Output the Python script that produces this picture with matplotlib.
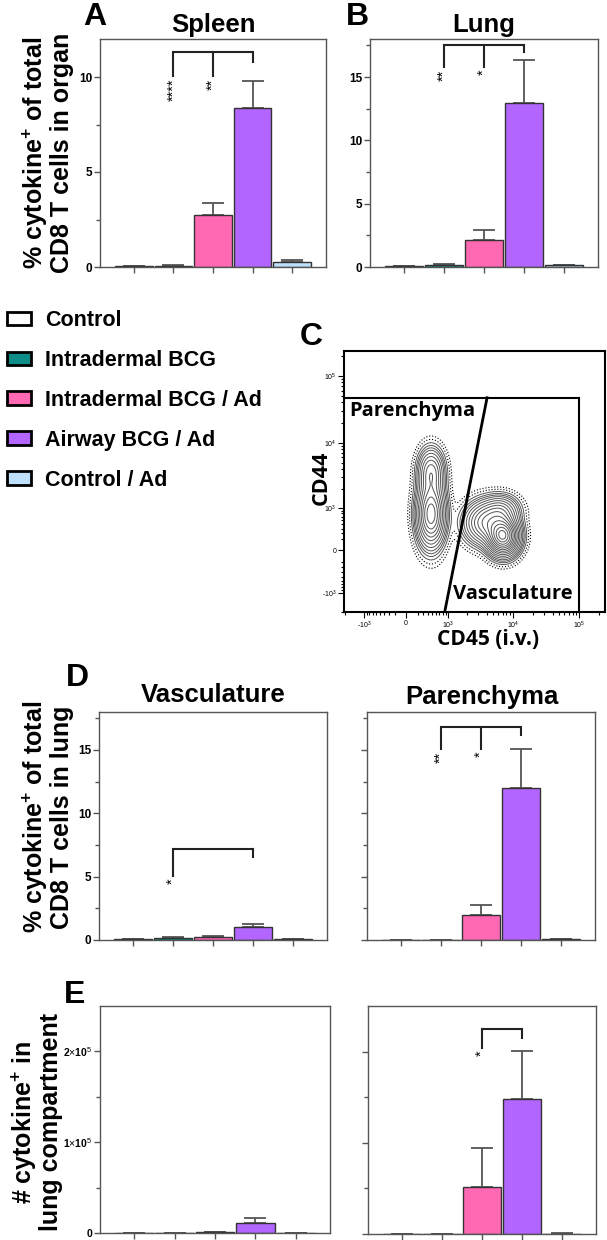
import numpy as np
import matplotlib.pyplot as plt
from matplotlib.patches import Patch

# ---- Figure geometry (pixels) -------------------------------------------
W, H = 607, 1240
DPI = 100

plt.rcParams['font.family'] = ['Liberation Sans', 'DejaVu Sans']
plt.rcParams['mathtext.fontset'] = 'custom'
plt.rcParams['mathtext.rm'] = 'Liberation Sans'
plt.rcParams['mathtext.bf'] = 'Liberation Sans:bold'

# ---- Data ----------------------------------------------------------------
groups = ["Control", "Intradermal BCG", "Intradermal BCG / Ad",
          "Airway BCG / Ad", "Control / Ad"]
colors = ["#ffffff", "#0e8c88", "#ff69b4", "#b266ff", "#bfe0fa"]

# % cytokine+ of CD8 T cells (mean, SEM)
spleen_mean = [0.03, 0.06, 2.75, 8.35, 0.27]
spleen_sem  = [0.01, 0.02, 0.60, 1.45, 0.10]
lung_mean   = [0.05, 0.15, 2.12, 12.97, 0.12]
lung_sem    = [0.02, 0.10, 0.80, 3.37, 0.03]
vasc_mean   = [0.04, 0.15, 0.22, 0.99, 0.08]
vasc_sem    = [0.02, 0.10, 0.13, 0.31, 0.02]
paren_mean  = [0.01, 0.02, 1.97, 11.97, 0.05]
paren_sem   = [0.005, 0.01, 0.80, 3.08, 0.02]

# number of cytokine+ cells per compartment
vasc_count_mean  = [100, 200, 900, 10700, 100]
vasc_count_sem   = [50, 100, 300, 5800, 50]
paren_count_mean = [100, 200, 52000, 147700, 500]
paren_count_sem  = [50, 100, 42000, 53000, 200]

# significance brackets: legs (group index), leg bottoms, bar top, stars
spleen_sig = ([1, 2, 3], [10.05, 10.05, 10.8], 11.3, ["****", "**", ""])
lung_sig   = ([1, 2, 3], [15.8, 15.8, 17.0], 17.5, ["**", "*", ""])
vasc_sig   = ([1, 3], [5.05, 6.55], 7.15, ["*", ""])
paren_sig  = ([1, 2, 3], [15.1, 15.1, 16.2], 16.85, ["**", "*", ""])
paren_count_sig = ([2, 3], [2.04e5, 2.15e5], 2.25e5, ["*", ""])

# flow panel: populations in asinh units (centre x, centre y, sd x, sd y, weight)
flow_pops = [
    (0.87, 1.25, 0.27, 0.62, 0.60),   # parenchyma, main
    (0.87, 2.70, 0.25, 0.45, 0.30),   # parenchyma, upper
    (3.38, 0.50, 0.30, 0.36, 1.00),   # vasculature, main
    (2.75, 0.95, 0.40, 0.40, 0.40),   # vasculature, upper-left shoulder
    (3.30, 1.35, 0.35, 0.30, 0.25),   # vasculature, upper
]
flow_levels = [0.006, 0.012, 0.022, 0.035, 0.05, 0.07, 0.1, 0.14, 0.19,
               0.25, 0.32, 0.40, 0.49, 0.59, 0.70, 0.82, 0.93]
gate_top = 4.7e4
gate_right = 1.0e5
gate_split_top = 4060
gate_split_bottom = 883
ASINH_W = 485


def rect(l, t, r, b):
    return [l / W, 1 - b / H, (r - l) / W, (b - t) / H]


def fx(x):
    return x / W


def fy(y):
    return 1 - y / H


def bar_panel(ax, mean, sem, ymax, yticks, ylabels, minor):
    x = np.arange(len(mean))
    ax.bar(x, mean, width=0.95, color=colors, edgecolor="#333333",
           linewidth=1.0, zorder=2)
    ax.errorbar(x, mean, yerr=[np.zeros(len(sem)), sem], fmt="none",
                ecolor="#555555", elinewidth=1.3, capsize=8, capthick=1.3,
                zorder=1)
    ax.set_xlim(-0.85, 4.85)
    ax.set_ylim(0, ymax)
    ax.set_xticks(x)
    ax.set_xticklabels([])
    ax.set_yticks(yticks)
    ax.set_yticklabels(ylabels, fontweight="bold")
    ax.set_yticks(minor, minor=True)
    ax.tick_params(which="both", direction="out", color="#555555", width=1)
    ax.tick_params(which="major", length=4, labelsize=8.5, pad=1.5)
    ax.tick_params(which="minor", length=3)
    for s in ax.spines.values():
        s.set_color("#555555")
        s.set_linewidth(1.0)


def sig(ax, spec):
    xs, bottoms, top, stars = spec
    ax.plot([xs[0], xs[-1]], [top, top], color="#222222", lw=1.5,
            solid_capstyle="butt", zorder=3)
    for x, b, s in zip(xs, bottoms, stars):
        ax.plot([x, x], [b, top], color="#222222", lw=1.5, zorder=3)
        if s:
            ax.annotate(s, (x, b), xytext=(0, -2), textcoords="offset points",
                        rotation=90, ha="center", va="top", fontsize=10.5)


fig = plt.figure(figsize=(W / DPI, H / DPI), dpi=DPI)

# ---- A: spleen -----------------------------------------------------------
axA = fig.add_axes(rect(100, 39, 326, 267))
bar_panel(axA, spleen_mean, spleen_sem, 12, [0, 5, 10], ["0", "5", "10"],
          [2.5, 7.5])
sig(axA, spleen_sig)

# ---- B: lung -------------------------------------------------------------
axB = fig.add_axes(rect(370, 39, 598, 267))
bar_panel(axB, lung_mean, lung_sem, 18, [0, 5, 10, 15],
          ["0", "5", "10", "15"], [2.5, 7.5, 12.5, 17.5])
sig(axB, lung_sig)

# ---- D: vasculature / parenchyma (%) -------------------------------------
axD1 = fig.add_axes(rect(99, 712, 327, 940))
bar_panel(axD1, vasc_mean, vasc_sem, 18, [0, 5, 10, 15],
          ["0", "5", "10", "15"], [2.5, 7.5, 12.5, 17.5])
sig(axD1, vasc_sig)

axD2 = fig.add_axes(rect(367, 712, 595, 940))
bar_panel(axD2, paren_mean, paren_sem, 18, [0, 5, 10, 15],
          ["", "", "", ""], [2.5, 7.5, 12.5, 17.5])
sig(axD2, paren_sig)

# ---- E: counts -----------------------------------------------------------
cnt_labels = ["0", r"1$\times$10$^{5}$", r"2$\times$10$^{5}$"]
axE1 = fig.add_axes(rect(100, 1006, 330, 1233))
bar_panel(axE1, vasc_count_mean, vasc_count_sem, 2.5e5, [0, 1e5, 2e5],
          cnt_labels, [0.5e5, 1.5e5])
axE1.tick_params(which="major", labelsize=7.5)

axE2 = fig.add_axes(rect(368, 1006, 596, 1234))
bar_panel(axE2, paren_count_mean, paren_count_sem, 2.5e5, [0, 1e5, 2e5],
          ["", "", ""], [0.5e5, 1.5e5])
sig(axE2, paren_count_sig)

# ---- C: flow plot --------------------------------------------------------
axC = fig.add_axes(rect(344, 351, 605, 612))
axC.set_xscale("asinh", linear_width=ASINH_W)
axC.set_yscale("asinh", linear_width=ASINH_W)
xmin, xmax, ymin, ymax = -2080, 2.48e5, -1850, 2.36e5

u = np.linspace(-2.2, 7.0, 500)
v = np.linspace(-2.1, 6.9, 500)
U, V = np.meshgrid(u, v)
Z = np.zeros_like(U)
for cx, cy, sx, sy, w in flow_pops:
    Z += w * np.exp(-((U - cx) ** 2 / (2 * sx ** 2) + (V - cy) ** 2 / (2 * sy ** 2)))
X = ASINH_W * np.sinh(U)
Y = ASINH_W * np.sinh(V)
lv = np.array(flow_levels) * Z.max()
axC.contour(X, Y, Z, levels=lv[:2], colors="black", linewidths=0.8,
            linestyles=":")
axC.contour(X, Y, Z, levels=lv[2:], colors="#555555", linewidths=0.7)

# gates
axC.plot([xmin, gate_right], [gate_top, gate_top], color="black", lw=1.5)
axC.plot([gate_right, gate_right], [gate_top, ymin], color="black", lw=1.5)
axC.plot([gate_split_top, gate_split_bottom], [gate_top, ymin],
         color="black", lw=2.0)
axC.text(0.02, 0.772, "Parenchyma", transform=axC.transAxes, ha="left",
         va="center", fontsize=14.5, fontweight="bold", family="Open Sans")
axC.text(0.875, 0.068, "Vasculature", transform=axC.transAxes, ha="right",
         va="center", fontsize=14.5, fontweight="bold", family="Open Sans")

axC.set_xlim(xmin, xmax)
axC.set_ylim(ymin, ymax)
flow_ticks = [-1e3, 0, 1e3, 1e4, 1e5]
flow_labels = [r"-10$^{3}$", "0", r"10$^{3}$", r"10$^{4}$", r"10$^{5}$"]
flow_minor = ([-k * 100 for k in range(2, 10)] + [k * 100 for k in range(2, 10)]
              + [k * 1000 for k in range(2, 10)] + [k * 10000 for k in range(2, 10)]
              + [-2000, 2e5])
axC.set_xticks(flow_ticks)
axC.set_xticklabels(flow_labels)
axC.set_yticks(flow_ticks)
axC.set_yticklabels(flow_labels)
axC.set_xticks(flow_minor, minor=True)
axC.set_yticks(flow_minor, minor=True)
axC.tick_params(which="both", direction="out", color="black", width=0.8)
axC.tick_params(which="major", length=4, labelsize=5, pad=1.5)
axC.tick_params(which="minor", length=2, labelleft=False, labelbottom=False)
for s in axC.spines.values():
    s.set_linewidth(1.5)

fig.text(fx(321), fy(478), "CD44", rotation=90, ha="center", va="center",
         fontsize=15.5, fontweight="bold", family="Open Sans")
fig.text(fx(488), fy(639), "CD45 (i.v.)", ha="center", va="center",
         fontsize=15, fontweight="bold", family="Open Sans")

# ---- titles, panel letters, y labels ------------------------------------
title_kw = dict(ha="center", va="center", fontsize=18.5, fontweight="bold")
fig.text(fx(213), fy(25), "Spleen", **title_kw)
fig.text(fx(484), fy(25), "Lung", **title_kw)
fig.text(fx(213), fy(695), "Vasculature", **title_kw)
fig.text(fx(482), fy(697), "Parenchyma", **title_kw)

letter_kw = dict(ha="center", va="center", fontsize=23, fontweight="bold")
fig.text(fx(95), fy(17), "A", **letter_kw)
fig.text(fx(357), fy(17), "B", **letter_kw)
fig.text(fx(311), fy(337), "C", **letter_kw)
fig.text(fx(77), fy(678), "D", **letter_kw)
fig.text(fx(75), fy(995), "E", **letter_kw)

ylab_kw = dict(rotation=90, ha="center", va="center", fontsize=18,
               fontweight="bold", linespacing=1.0)
fig.text(fx(47), fy(153), "% cytokine$^{\\mathbf{+}}$ of total\nCD8 T cells in organ",
         **ylab_kw)
fig.text(fx(47), fy(817), "% cytokine$^{\\mathbf{+}}$ of total\nCD8 T cells in lung",
         **ylab_kw)
fig.text(fx(36), fy(1122), "# cytokine$^{\\mathbf{+}}$ in\nlung compartment",
         **ylab_kw)

# ---- legend --------------------------------------------------------------
handles = [Patch(facecolor=c, edgecolor="black", linewidth=2, label=g)
           for g, c in zip(groups, colors)]
fig.legend(handles=handles, loc="upper left", bbox_to_anchor=(fx(7), fy(310)),
           frameon=False, prop=dict(weight="bold", size=15.5),
           handlelength=1.1, handleheight=0.6, handletextpad=0.65,
           labelspacing=0.88, borderpad=0, borderaxespad=0)

fig.savefig("out.png", dpi=DPI)
